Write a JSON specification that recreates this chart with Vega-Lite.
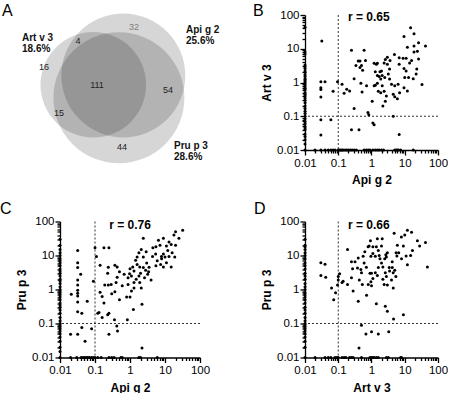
{
  "$schema": "https://vega.github.io/schema/vega-lite/v6.json",
  "padding": {"left": 0, "top": 2, "right": 0, "bottom": 0},
  "columns": 2,
  "spacing": {"row": 71.5, "column": 105},
  "bounds": "flush",
  "config": {
    "view": {"stroke": null},
    "font": "Liberation Sans",
    "axis": {"zindex": 0, "domainColor": "#000", "domainWidth": 1.3, "tickColor": "#000", "tickWidth": 1.3, "labelColor": "#000", "labelFont": "Liberation Sans", "labelFontSize": 11.5, "titleFont": "Liberation Sans", "titleFontSize": 12, "titleFontWeight": "bold", "titleColor": "#000", "grid": false, "labelFlush": false, "labelOverlap": false},
    "title": {"font": "Liberation Sans", "fontSize": 16, "fontWeight": "normal", "color": "#000", "anchor": "start", "frame": "group", "offset": 0}
  },
  "datasets": {
    "venn": [
      {"set": "Art v 3", "share": "18.6%", "pct": 18.6, "cx": 9.33, "cy": 8.27, "lx": 2.2, "ly": 3.07},
      {"set": "Api g 2", "share": "25.6%", "pct": 25.6, "cx": 12.33, "cy": 7.17, "lx": 18.6, "ly": 2.17},
      {"set": "Pru p 3", "share": "28.6%", "pct": 28.6, "cx": 11.89, "cy": 9.82, "lx": 17.4, "ly": 15.93}
    ],
    "counts": [
      {"n": 32, "x": 13.4, "y": 1.4}, {"n": 4, "x": 7.8, "y": 3.1}, {"n": 16, "x": 4.4, "y": 6.2},
      {"n": 111, "x": 9.7, "y": 8.3}, {"n": 54, "x": 16.8, "y": 8.9}, {"n": 15, "x": 5.9, "y": 11.6},
      {"n": 44, "x": 12.2, "y": 15.6}
    ],
    "B": [
      {"apig2":15,"artv3":42},{"apig2":19,"artv3":28},{"apig2":9.5,"artv3":23},{"apig2":0.032,"artv3":17},{"apig2":26,"artv3":15},{"apig2":19,"artv3":12},{"apig2":42,"artv3":12},{"apig2":12,"artv3":11},{"apig2":24,"artv3":8.5},{"apig2":19,"artv3":8},{"apig2":0.25,"artv3":9},{"apig2":0.6,"artv3":9},{"apig2":4.9,"artv3":6.8},{"apig2":0.4,"artv3":4.3},{"apig2":0.45,"artv3":4.3},{"apig2":0.66,"artv3":4.5},{"apig2":1.2,"artv3":3.7},{"apig2":1.5,"artv3":3.7},{"apig2":2.4,"artv3":3.8},{"apig2":2.6,"artv3":4.8},{"apig2":3,"artv3":5.6},{"apig2":6.8,"artv3":5.4},{"apig2":8.9,"artv3":5.2},{"apig2":11,"artv3":5.2},{"apig2":26,"artv3":5},{"apig2":0.34,"artv3":3.2},{"apig2":0.5,"artv3":3.2},{"apig2":0.54,"artv3":2.3},{"apig2":1.3,"artv3":2.1},{"apig2":1.8,"artv3":2.1},{"apig2":3,"artv3":3.5},{"apig2":3.5,"artv3":2.5},{"apig2":6.8,"artv3":3.5},{"apig2":9.5,"artv3":2.6},{"apig2":11,"artv3":2.2},{"apig2":13,"artv3":1.4},{"apig2":18,"artv3":1.3},{"apig2":22,"artv3":1.8},{"apig2":23,"artv3":2.5},{"apig2":33,"artv3":0.87},{"apig2":2,"artv3":2.2},{"apig2":2.1,"artv3":1.6},{"apig2":2.5,"artv3":1.4},{"apig2":1.9,"artv3":1.26},{"apig2":1.5,"artv3":0.95},{"apig2":1.3,"artv3":0.83},{"apig2":1.2,"artv3":0.8},{"apig2":2.1,"artv3":0.8},{"apig2":1.6,"artv3":0.55},{"apig2":1.9,"artv3":0.5},{"apig2":2.4,"artv3":0.55},{"apig2":1.05,"artv3":0.28},{"apig2":2.6,"artv3":0.28},{"apig2":2.2,"artv3":0.2},{"apig2":2.8,"artv3":0.4},{"apig2":3.5,"artv3":1.26},{"apig2":4,"artv3":0.89},{"apig2":5,"artv3":0.8},{"apig2":6.3,"artv3":0.89},{"apig2":4.5,"artv3":0.45},{"apig2":5,"artv3":0.38},{"apig2":6,"artv3":0.33},{"apig2":7,"artv3":0.5},{"apig2":9.5,"artv3":0.7},{"apig2":12,"artv3":0.56},{"apig2":0.04,"artv3":1.05},{"apig2":0.03,"artv3":1.05},{"apig2":0.03,"artv3":0.7},{"apig2":0.03,"artv3":0.62},{"apig2":0.03,"artv3":0.37},{"apig2":0.07,"artv3":0.55},{"apig2":0.095,"artv3":1.05},{"apig2":0.13,"artv3":0.89},{"apig2":0.15,"artv3":0.48},{"apig2":0.18,"artv3":0.63},{"apig2":0.22,"artv3":0.56},{"apig2":0.3,"artv3":0.17},{"apig2":0.48,"artv3":0.95},{"apig2":0.52,"artv3":0.52},{"apig2":0.71,"artv3":0.8},{"apig2":0.78,"artv3":0.13},{"apig2":0.83,"artv3":0.11},{"apig2":1.1,"artv3":0.063},{"apig2":1.2,"artv3":0.056},{"apig2":4.5,"artv3":0.1},{"apig2":0.25,"artv3":0.04},{"apig2":0.42,"artv3":0.04},{"apig2":6.8,"artv3":0.029},{"apig2":0.03,"artv3":0.079},{"apig2":0.06,"artv3":0.079},{"apig2":0.03,"artv3":0.028},{"apig2":1.5,"artv3":1.6},{"apig2":1.7,"artv3":1.5},{"apig2":3.2,"artv3":1.8},{"apig2":1.4,"artv3":3.5},{"apig2":3.6,"artv3":4.5},{"apig2":0.3,"artv3":1.3},{"apig2":0.45,"artv3":2.8},{"apig2":10,"artv3":1.4},{"apig2":16,"artv3":4.5},{"apig2":14,"artv3":3.8},
      {"apig2":0.01,"artv3":43},{"apig2":0.01,"artv3":8},{"apig2":0.01,"artv3":7},{"apig2":0.01,"artv3":3.3},{"apig2":0.01,"artv3":3},{"apig2":0.01,"artv3":2.6},{"apig2":0.01,"artv3":2.2},{"apig2":0.01,"artv3":2},{"apig2":0.01,"artv3":1.7},{"apig2":0.01,"artv3":1.5},{"apig2":0.01,"artv3":1.3},{"apig2":0.01,"artv3":1.2},{"apig2":0.01,"artv3":1.1},{"apig2":0.01,"artv3":1},{"apig2":0.01,"artv3":0.9},{"apig2":0.01,"artv3":0.8},{"apig2":0.01,"artv3":0.7},{"apig2":0.01,"artv3":0.65},{"apig2":0.01,"artv3":0.6},{"apig2":0.01,"artv3":0.5},{"apig2":0.01,"artv3":0.45},{"apig2":0.01,"artv3":0.4},{"apig2":0.01,"artv3":0.35},{"apig2":0.01,"artv3":0.3},{"apig2":0.01,"artv3":0.25},{"apig2":0.01,"artv3":0.2},{"apig2":0.01,"artv3":0.17},{"apig2":0.01,"artv3":0.14},{"apig2":0.01,"artv3":0.12},{"apig2":0.01,"artv3":0.1},{"apig2":0.01,"artv3":0.085},{"apig2":0.01,"artv3":0.07},{"apig2":0.01,"artv3":0.06},{"apig2":0.01,"artv3":0.05},{"apig2":0.01,"artv3":0.045},{"apig2":0.01,"artv3":0.04},{"apig2":0.01,"artv3":0.03},{"apig2":0.01,"artv3":0.025},{"apig2":0.01,"artv3":0.02},{"apig2":0.01,"artv3":0.015},{"apig2":0.01,"artv3":0.01},
      {"apig2":0.02,"artv3":0.01},{"apig2":0.03,"artv3":0.01},{"apig2":0.04,"artv3":0.01},{"apig2":0.05,"artv3":0.01},{"apig2":0.06,"artv3":0.01},{"apig2":0.07,"artv3":0.01},{"apig2":0.08,"artv3":0.01},{"apig2":0.1,"artv3":0.01},{"apig2":0.11,"artv3":0.01},{"apig2":0.12,"artv3":0.01},{"apig2":0.13,"artv3":0.01},{"apig2":0.14,"artv3":0.01},{"apig2":0.16,"artv3":0.01},{"apig2":0.18,"artv3":0.01},{"apig2":0.2,"artv3":0.01},{"apig2":0.23,"artv3":0.01},{"apig2":0.26,"artv3":0.01},{"apig2":0.3,"artv3":0.01},{"apig2":0.35,"artv3":0.01},{"apig2":0.6,"artv3":0.01},{"apig2":0.7,"artv3":0.01},{"apig2":0.8,"artv3":0.01},{"apig2":0.9,"artv3":0.01},{"apig2":1.1,"artv3":0.01},{"apig2":1.3,"artv3":0.01},{"apig2":1.5,"artv3":0.01},{"apig2":1.7,"artv3":0.01},{"apig2":2,"artv3":0.01},{"apig2":2.3,"artv3":0.01},{"apig2":5,"artv3":0.01},{"apig2":5.5,"artv3":0.01},{"apig2":6,"artv3":0.01},{"apig2":6.5,"artv3":0.01},{"apig2":7.5,"artv3":0.01},{"apig2":18,"artv3":0.01}
    ],
    "C": [
      {"apig2":32,"prup3":55},{"apig2":20,"prup3":50},{"apig2":18,"prup3":40},{"apig2":25,"prup3":32},{"apig2":2.4,"prup3":32},{"apig2":9,"prup3":32},{"apig2":6.5,"prup3":28},{"apig2":13,"prup3":25},{"apig2":15,"prup3":21},{"apig2":11,"prup3":19},{"apig2":5.5,"prup3":18},{"apig2":4.5,"prup3":17},{"apig2":7.2,"prup3":20},{"apig2":2.1,"prup3":15},{"apig2":1.8,"prup3":12},{"apig2":2.9,"prup3":13},{"apig2":4.4,"prup3":9.4},{"apig2":5.4,"prup3":11},{"apig2":7.9,"prup3":9.4},{"apig2":10,"prup3":9},{"apig2":13,"prup3":9.4},{"apig2":16,"prup3":12},{"apig2":19,"prup3":9},{"apig2":11,"prup3":6.1},{"apig2":9,"prup3":4.6},{"apig2":15,"prup3":4.6},{"apig2":7.5,"prup3":5.4},{"apig2":5.5,"prup3":5},{"apig2":2.4,"prup3":9},{"apig2":1.6,"prup3":9},{"apig2":1.45,"prup3":7.2},{"apig2":1.2,"prup3":4.6},{"apig2":1,"prup3":4.1},{"apig2":1.3,"prup3":3.5},{"apig2":0.97,"prup3":2.9},{"apig2":1.1,"prup3":2.5},{"apig2":0.88,"prup3":2.2},{"apig2":1.6,"prup3":5.4},{"apig2":1.9,"prup3":4.6},{"apig2":2.4,"prup3":4.4},{"apig2":2.8,"prup3":3.7},{"apig2":3.4,"prup3":3.3},{"apig2":4,"prup3":1.9},{"apig2":1.8,"prup3":2.5},{"apig2":1.9,"prup3":1.6},{"apig2":2.1,"prup3":1.1},{"apig2":0.88,"prup3":1.4},{"apig2":1.3,"prup3":1.1},{"apig2":1.1,"prup3":0.9},{"apig2":0.8,"prup3":0.6},{"apig2":1,"prup3":0.6},{"apig2":2.2,"prup3":0.37},{"apig2":1.25,"prup3":0.26},{"apig2":0.84,"prup3":0.13},{"apig2":0.68,"prup3":2.8},{"apig2":0.5,"prup3":3.3},{"apig2":0.43,"prup3":2.3},{"apig2":0.4,"prup3":1.6},{"apig2":0.43,"prup3":4.6},{"apig2":0.37,"prup3":5.2},{"apig2":0.25,"prup3":17},{"apig2":0.18,"prup3":17},{"apig2":0.14,"prup3":5.2},{"apig2":0.24,"prup3":4.5},{"apig2":0.23,"prup3":3},{"apig2":0.19,"prup3":1.35},{"apig2":0.24,"prup3":1.35},{"apig2":0.29,"prup3":1.4},{"apig2":0.37,"prup3":0.86},{"apig2":0.14,"prup3":0.83},{"apig2":0.16,"prup3":0.62},{"apig2":0.18,"prup3":0.4},{"apig2":0.25,"prup3":0.2},{"apig2":0.23,"prup3":0.18},{"apig2":0.16,"prup3":0.15},{"apig2":0.12,"prup3":0.2},{"apig2":0.13,"prup3":0.21},{"apig2":0.11,"prup3":9.4},{"apig2":0.1,"prup3":17},{"apig2":0.09,"prup3":1.75},{"apig2":0.36,"prup3":0.13},{"apig2":0.44,"prup3":0.06},{"apig2":0.42,"prup3":0.085},{"apig2":0.25,"prup3":0.048},{"apig2":0.08,"prup3":0.07},{"apig2":0.032,"prup3":14},{"apig2":0.032,"prup3":6.1},{"apig2":0.032,"prup3":4.4},{"apig2":0.039,"prup3":2.8},{"apig2":0.032,"prup3":1.9},{"apig2":0.032,"prup3":1.35},{"apig2":0.032,"prup3":0.95},{"apig2":0.032,"prup3":0.77},{"apig2":0.032,"prup3":0.64},{"apig2":0.032,"prup3":0.43},{"apig2":0.021,"prup3":0.73},{"apig2":0.06,"prup3":0.45},{"apig2":0.032,"prup3":0.22},{"apig2":0.042,"prup3":0.2},{"apig2":0.02,"prup3":0.048},{"apig2":0.032,"prup3":0.048},{"apig2":0.042,"prup3":0.076},{"apig2":0.052,"prup3":0.03},{"apig2":2.2,"prup3":0.019},{"apig2":3,"prup3":6},{"apig2":3.5,"prup3":4.5},{"apig2":6,"prup3":7},{"apig2":8,"prup3":8},{"apig2":12,"prup3":14},{"apig2":20,"prup3":20},{"apig2":3.2,"prup3":2.8},{"apig2":2.6,"prup3":2.2},{"apig2":1.5,"prup3":2},{"apig2":0.6,"prup3":1.3},{"apig2":0.3,"prup3":0.75},{"apig2":0.5,"prup3":0.5},{"apig2":2,"prup3":3},{"apig2":9,"prup3":11},{"apig2":1.3,"prup3":1.6},
      {"apig2":0.01,"prup3":30},{"apig2":0.01,"prup3":20},{"apig2":0.01,"prup3":15},{"apig2":0.01,"prup3":12},{"apig2":0.01,"prup3":10},{"apig2":0.01,"prup3":8},{"apig2":0.01,"prup3":7},{"apig2":0.01,"prup3":6},{"apig2":0.01,"prup3":5},{"apig2":0.01,"prup3":4},{"apig2":0.01,"prup3":3.5},{"apig2":0.01,"prup3":3},{"apig2":0.01,"prup3":2.5},{"apig2":0.01,"prup3":2},{"apig2":0.01,"prup3":1.8},{"apig2":0.01,"prup3":1.5},{"apig2":0.01,"prup3":1.2},{"apig2":0.01,"prup3":1},{"apig2":0.01,"prup3":0.9},{"apig2":0.01,"prup3":0.8},{"apig2":0.01,"prup3":0.7},{"apig2":0.01,"prup3":0.6},{"apig2":0.01,"prup3":0.5},{"apig2":0.01,"prup3":0.4},{"apig2":0.01,"prup3":0.35},{"apig2":0.01,"prup3":0.3},{"apig2":0.01,"prup3":0.25},{"apig2":0.01,"prup3":0.2},{"apig2":0.01,"prup3":0.15},{"apig2":0.01,"prup3":0.12},{"apig2":0.01,"prup3":0.1},{"apig2":0.01,"prup3":0.09},{"apig2":0.01,"prup3":0.08},{"apig2":0.01,"prup3":0.07},{"apig2":0.01,"prup3":0.06},{"apig2":0.01,"prup3":0.05},{"apig2":0.01,"prup3":0.04},{"apig2":0.01,"prup3":0.03},{"apig2":0.01,"prup3":0.02},{"apig2":0.01,"prup3":0.015},{"apig2":0.01,"prup3":0.01},
      {"apig2":0.02,"prup3":0.01},{"apig2":0.03,"prup3":0.01},{"apig2":0.04,"prup3":0.01},{"apig2":0.045,"prup3":0.01},{"apig2":0.05,"prup3":0.01},{"apig2":0.055,"prup3":0.01},{"apig2":0.06,"prup3":0.01},{"apig2":0.065,"prup3":0.01},{"apig2":0.07,"prup3":0.01},{"apig2":0.08,"prup3":0.01},{"apig2":0.09,"prup3":0.01},{"apig2":0.1,"prup3":0.01},{"apig2":0.12,"prup3":0.01},{"apig2":0.15,"prup3":0.01},{"apig2":0.25,"prup3":0.01},{"apig2":0.3,"prup3":0.01},{"apig2":0.35,"prup3":0.01},{"apig2":0.55,"prup3":0.01},{"apig2":0.6,"prup3":0.01},{"apig2":1.8,"prup3":0.01},{"apig2":2,"prup3":0.01},{"apig2":6,"prup3":0.01}
    ],
    "D": [
      {"artv3":12,"prup3":55},{"artv3":16,"prup3":48},{"artv3":4.8,"prup3":45},{"artv3":10,"prup3":40},{"artv3":7.9,"prup3":35},{"artv3":24,"prup3":27},{"artv3":42,"prup3":24},{"artv3":28,"prup3":19},{"artv3":17,"prup3":14},{"artv3":11,"prup3":9.6},{"artv3":12,"prup3":5.3},{"artv3":48,"prup3":4.6},{"artv3":9.1,"prup3":19},{"artv3":6.6,"prup3":12},{"artv3":5.5,"prup3":12},{"artv3":5.8,"prup3":9.6},{"artv3":4.2,"prup3":6.5},{"artv3":2.7,"prup3":10.5},{"artv3":2.8,"prup3":9},{"artv3":3,"prup3":12},{"artv3":2.5,"prup3":8},{"artv3":2,"prup3":19},{"artv3":1.5,"prup3":31},{"artv3":2.1,"prup3":31},{"artv3":0.93,"prup3":27},{"artv3":0.79,"prup3":18},{"artv3":0.85,"prup3":19},{"artv3":1.1,"prup3":18},{"artv3":1.4,"prup3":18},{"artv3":1.6,"prup3":14},{"artv3":1.1,"prup3":11.5},{"artv3":0.63,"prup3":13},{"artv3":0.56,"prup3":9.5},{"artv3":0.96,"prup3":9.5},{"artv3":1.3,"prup3":9.5},{"artv3":1.7,"prup3":10},{"artv3":0.4,"prup3":8.5},{"artv3":0.38,"prup3":4.3},{"artv3":0.48,"prup3":3.9},{"artv3":0.5,"prup3":3.1},{"artv3":0.27,"prup3":4.1},{"artv3":0.32,"prup3":6.5},{"artv3":0.25,"prup3":6.5},{"artv3":0.19,"prup3":15},{"artv3":0.9,"prup3":3},{"artv3":1,"prup3":3},{"artv3":1.3,"prup3":3.1},{"artv3":1.5,"prup3":2.6},{"artv3":1.1,"prup3":2.1},{"artv3":0.96,"prup3":1.7},{"artv3":0.8,"prup3":1.4},{"artv3":1,"prup3":1.3},{"artv3":2.2,"prup3":4.6},{"artv3":2.6,"prup3":3.1},{"artv3":2.8,"prup3":2.4},{"artv3":2.4,"prup3":1.4},{"artv3":3,"prup3":1.35},{"artv3":4.2,"prup3":4.4},{"artv3":5,"prup3":3.7},{"artv3":4.5,"prup3":3.1},{"artv3":5.4,"prup3":2.4},{"artv3":4,"prup3":1.9},{"artv3":4.5,"prup3":1.1},{"artv3":3.4,"prup3":4.4},{"artv3":1.6,"prup3":4.4},{"artv3":0.19,"prup3":1.4},{"artv3":0.28,"prup3":0.9},{"artv3":0.14,"prup3":1.75},{"artv3":0.43,"prup3":1.9},{"artv3":0.53,"prup3":1.4},{"artv3":0.71,"prup3":0.68},{"artv3":0.4,"prup3":0.45},{"artv3":1.4,"prup3":0.38},{"artv3":2.6,"prup3":0.32},{"artv3":3,"prup3":0.23},{"artv3":4.6,"prup3":0.135},{"artv3":9.1,"prup3":0.18},{"artv3":0.5,"prup3":0.089},{"artv3":0.68,"prup3":0.049},{"artv3":1,"prup3":0.057},{"artv3":1.6,"prup3":0.049},{"artv3":3.3,"prup3":0.057},{"artv3":0.42,"prup3":0.019},{"artv3":0.03,"prup3":6.1},{"artv3":0.04,"prup3":5.5},{"artv3":0.03,"prup3":2.6},{"artv3":0.042,"prup3":2.3},{"artv3":0.063,"prup3":1.1},{"artv3":0.083,"prup3":0.8},{"artv3":0.073,"prup3":0.5},{"artv3":0.1,"prup3":1.9},{"artv3":0.095,"prup3":1.35},{"artv3":0.11,"prup3":2.9},{"artv3":0.1,"prup3":2.4},{"artv3":0.13,"prup3":1.6},{"artv3":0.6,"prup3":6},{"artv3":0.7,"prup3":4.5},{"artv3":3.5,"prup3":3.5},{"artv3":2,"prup3":6},{"artv3":8,"prup3":8},{"artv3":15,"prup3":10},{"artv3":6,"prup3":20},{"artv3":0.25,"prup3":2.2},{"artv3":1.8,"prup3":8},{"artv3":2.2,"prup3":2},
      {"artv3":0.01,"prup3":30},{"artv3":0.01,"prup3":20},{"artv3":0.01,"prup3":18},{"artv3":0.01,"prup3":15},{"artv3":0.01,"prup3":12},{"artv3":0.01,"prup3":10},{"artv3":0.01,"prup3":8},{"artv3":0.01,"prup3":6},{"artv3":0.01,"prup3":5},{"artv3":0.01,"prup3":4},{"artv3":0.01,"prup3":3},{"artv3":0.01,"prup3":2.5},{"artv3":0.01,"prup3":2},{"artv3":0.01,"prup3":1.5},{"artv3":0.01,"prup3":1.2},{"artv3":0.01,"prup3":1},{"artv3":0.01,"prup3":0.8},{"artv3":0.01,"prup3":0.7},{"artv3":0.01,"prup3":0.6},{"artv3":0.01,"prup3":0.5},{"artv3":0.01,"prup3":0.4},{"artv3":0.01,"prup3":0.3},{"artv3":0.01,"prup3":0.25},{"artv3":0.01,"prup3":0.2},{"artv3":0.01,"prup3":0.15},{"artv3":0.01,"prup3":0.12},{"artv3":0.01,"prup3":0.1},{"artv3":0.01,"prup3":0.09},{"artv3":0.01,"prup3":0.08},{"artv3":0.01,"prup3":0.07},{"artv3":0.01,"prup3":0.06},{"artv3":0.01,"prup3":0.05},{"artv3":0.01,"prup3":0.04},{"artv3":0.01,"prup3":0.03},{"artv3":0.01,"prup3":0.02},{"artv3":0.01,"prup3":0.01},
      {"artv3":0.02,"prup3":0.01},{"artv3":0.04,"prup3":0.01},{"artv3":0.05,"prup3":0.01},{"artv3":0.06,"prup3":0.01},{"artv3":0.08,"prup3":0.01},{"artv3":0.09,"prup3":0.01},{"artv3":0.1,"prup3":0.01},{"artv3":0.13,"prup3":0.01},{"artv3":0.15,"prup3":0.01},{"artv3":0.17,"prup3":0.01},{"artv3":0.22,"prup3":0.01},{"artv3":0.25,"prup3":0.01},{"artv3":0.28,"prup3":0.01},{"artv3":0.5,"prup3":0.01},{"artv3":0.9,"prup3":0.01},{"artv3":1,"prup3":0.01},{"artv3":1.1,"prup3":0.01},{"artv3":1.2,"prup3":0.01},{"artv3":1.4,"prup3":0.01},{"artv3":1.6,"prup3":0.01},{"artv3":2.8,"prup3":0.01},{"artv3":3.2,"prup3":0.01},{"artv3":7.5,"prup3":0.01},{"artv3":8,"prup3":0.01}
    ]
  },
  "concat": [
    {
      "width": 140, "height": 135,
      "title": {"text": "A", "dx": -58, "dy": 9},
      "layer": [
        {"data": {"name": "venn"}, "mark": {"type": "point", "shape": "circle", "filled": true, "color": "#000", "opacity": 0.16, "strokeWidth": 0},
         "encoding": {
           "x": {"field": "cx", "type": "quantitative", "scale": {"domain": [6, 20]}, "axis": null},
           "y": {"field": "cy", "type": "quantitative", "scale": {"domain": [1.55, 15.05], "reverse": true}, "axis": null},
           "size": {"field": "pct", "type": "quantitative", "scale": {"domain": [0, 30], "range": [0, 18000]}, "legend": null}}},
        {"data": {"name": "counts"}, "mark": {"type": "text", "fontSize": 9, "align": "center", "baseline": "middle"},
         "encoding": {
           "x": {"field": "x", "type": "quantitative", "axis": null},
           "y": {"field": "y", "type": "quantitative", "axis": null},
           "text": {"field": "n"},
           "color": {"condition": {"test": "datum.n == 32", "value": "#808080"}, "value": "#222"}}},
        {"data": {"name": "venn"}, "mark": {"type": "text", "fontSize": 10, "fontWeight": "bold", "align": "left", "baseline": "alphabetic", "color": "#111"},
         "encoding": {
           "x": {"field": "lx", "type": "quantitative", "axis": null},
           "y": {"field": "ly", "type": "quantitative", "axis": null},
           "text": {"field": "set"}}},
        {"data": {"name": "venn"}, "mark": {"type": "text", "fontSize": 10, "fontWeight": "bold", "align": "left", "baseline": "alphabetic", "color": "#111", "dy": 11},
         "encoding": {
           "x": {"field": "lx", "type": "quantitative", "axis": null},
           "y": {"field": "ly", "type": "quantitative", "axis": null},
           "text": {"field": "share"}}}
      ]
    },
    {
      "width": 133, "height": 135,
      "title": {"text": "B", "dx": -52, "dy": 13.5},
      "resolve": {"axis": {"x": "independent", "y": "independent"}},
      "layer": [
        {"data": {"values": [{"v": 0.1}]}, "mark": {"type": "rule", "strokeDash": [2, 2], "color": "#333", "strokeWidth": 1},
         "encoding": {"x": {"field": "v", "type": "quantitative", "scale": {"type": "log", "domain": [0.01, 100], "nice": false}, "axis": {"orient": "bottom", "values": [0.02,0.03,0.04,0.05,0.06,0.07,0.08,0.09,0.2,0.3,0.4,0.5,0.6,0.7,0.8,0.9,2,3,4,5,6,7,8,9,20,30,40,50,60,70,80,90], "labels": false, "domain": false, "tickSize": 3, "title": null}}}},
        {"data": {"values": [{"v": 0.1}]}, "mark": {"type": "rule", "strokeDash": [2, 2], "color": "#333", "strokeWidth": 1},
         "encoding": {"y": {"field": "v", "type": "quantitative", "scale": {"type": "log", "domain": [0.01, 100], "nice": false}, "axis": {"orient": "left", "values": [0.02,0.03,0.04,0.05,0.06,0.07,0.08,0.09,0.2,0.3,0.4,0.5,0.6,0.7,0.8,0.9,2,3,4,5,6,7,8,9,20,30,40,50,60,70,80,90], "labels": false, "domain": false, "tickSize": 3, "title": null}}}},
        {"data": {"name": "B"}, "mark": {"type": "circle", "size": 9, "color": "#000", "opacity": 1, "clip": false},
         "encoding": {
           "x": {"field": "apig2", "type": "quantitative", "scale": {"type": "log", "domain": [0.01, 100], "nice": false}, "axis": {"orient": "bottom", "values": [0.01, 0.1, 1, 10, 100], "format": "~g", "tickSize": 5, "labelPadding": 2, "titlePadding": 6, "title": "Api g 2"}},
           "y": {"field": "artv3", "type": "quantitative", "scale": {"type": "log", "domain": [0.01, 100], "nice": false}, "axis": {"orient": "left", "values": [0.01, 0.1, 1, 10, 100], "format": "~g", "tickSize": 5, "labelPadding": 1, "titlePadding": 3, "title": "Art v 3"}}}},
        {"data": {"values": [{"r": "r = 0.65", "x": 0.83, "y": 88}]}, "mark": {"type": "text", "fontSize": 12, "fontWeight": "bold", "color": "#000"},
         "encoding": {"x": {"field": "x", "type": "quantitative", "axis": null}, "y": {"field": "y", "type": "quantitative", "axis": null}, "text": {"field": "r"}}}
      ]
    },
    {
      "width": 140, "height": 136,
      "title": {"text": "C", "dx": -60, "dy": 5.5},
      "resolve": {"axis": {"x": "independent", "y": "independent"}},
      "layer": [
        {"data": {"values": [{"v": 0.1}]}, "mark": {"type": "rule", "strokeDash": [2, 2], "color": "#333", "strokeWidth": 1},
         "encoding": {"x": {"field": "v", "type": "quantitative", "scale": {"type": "log", "domain": [0.01, 100], "nice": false}, "axis": {"orient": "bottom", "values": [0.02,0.03,0.04,0.05,0.06,0.07,0.08,0.09,0.2,0.3,0.4,0.5,0.6,0.7,0.8,0.9,2,3,4,5,6,7,8,9,20,30,40,50,60,70,80,90], "labels": false, "domain": false, "tickSize": 3, "title": null}}}},
        {"data": {"values": [{"v": 0.1}]}, "mark": {"type": "rule", "strokeDash": [2, 2], "color": "#333", "strokeWidth": 1},
         "encoding": {"y": {"field": "v", "type": "quantitative", "scale": {"type": "log", "domain": [0.01, 100], "nice": false}, "axis": {"orient": "left", "values": [0.02,0.03,0.04,0.05,0.06,0.07,0.08,0.09,0.2,0.3,0.4,0.5,0.6,0.7,0.8,0.9,2,3,4,5,6,7,8,9,20,30,40,50,60,70,80,90], "labels": false, "domain": false, "tickSize": 3, "title": null}}}},
        {"data": {"name": "C"}, "mark": {"type": "circle", "size": 9, "color": "#000", "opacity": 1, "clip": false},
         "encoding": {
           "x": {"field": "apig2", "type": "quantitative", "scale": {"type": "log", "domain": [0.01, 100], "nice": false}, "axis": {"orient": "bottom", "values": [0.01, 0.1, 1, 10, 100], "format": "~g", "tickSize": 5, "labelPadding": 2, "titlePadding": 6, "title": "Api g 2"}},
           "y": {"field": "prup3", "type": "quantitative", "scale": {"type": "log", "domain": [0.01, 100], "nice": false}, "axis": {"orient": "left", "values": [0.01, 0.1, 1, 10, 100], "format": "~g", "tickSize": 5, "labelPadding": 1, "titlePadding": 3, "title": "Pru p 3"}}}},
        {"data": {"values": [{"r": "r = 0.76", "x": 1.0, "y": 81}]}, "mark": {"type": "text", "fontSize": 12, "fontWeight": "bold", "color": "#000"},
         "encoding": {"x": {"field": "x", "type": "quantitative", "axis": null}, "y": {"field": "y", "type": "quantitative", "axis": null}, "text": {"field": "r"}}}
      ]
    },
    {
      "width": 133, "height": 136,
      "title": {"text": "D", "dx": -51, "dy": 5.5},
      "resolve": {"axis": {"x": "independent", "y": "independent"}},
      "layer": [
        {"data": {"values": [{"v": 0.1}]}, "mark": {"type": "rule", "strokeDash": [2, 2], "color": "#333", "strokeWidth": 1},
         "encoding": {"x": {"field": "v", "type": "quantitative", "scale": {"type": "log", "domain": [0.01, 100], "nice": false}, "axis": {"orient": "bottom", "values": [0.02,0.03,0.04,0.05,0.06,0.07,0.08,0.09,0.2,0.3,0.4,0.5,0.6,0.7,0.8,0.9,2,3,4,5,6,7,8,9,20,30,40,50,60,70,80,90], "labels": false, "domain": false, "tickSize": 3, "title": null}}}},
        {"data": {"values": [{"v": 0.1}]}, "mark": {"type": "rule", "strokeDash": [2, 2], "color": "#333", "strokeWidth": 1},
         "encoding": {"y": {"field": "v", "type": "quantitative", "scale": {"type": "log", "domain": [0.01, 100], "nice": false}, "axis": {"orient": "left", "values": [0.02,0.03,0.04,0.05,0.06,0.07,0.08,0.09,0.2,0.3,0.4,0.5,0.6,0.7,0.8,0.9,2,3,4,5,6,7,8,9,20,30,40,50,60,70,80,90], "labels": false, "domain": false, "tickSize": 3, "title": null}}}},
        {"data": {"name": "D"}, "mark": {"type": "circle", "size": 9, "color": "#000", "opacity": 1, "clip": false},
         "encoding": {
           "x": {"field": "artv3", "type": "quantitative", "scale": {"type": "log", "domain": [0.01, 100], "nice": false}, "axis": {"orient": "bottom", "values": [0.01, 0.1, 1, 10, 100], "format": "~g", "tickSize": 5, "labelPadding": 2, "titlePadding": 6, "title": "Art v 3"}},
           "y": {"field": "prup3", "type": "quantitative", "scale": {"type": "log", "domain": [0.01, 100], "nice": false}, "axis": {"orient": "left", "values": [0.01, 0.1, 1, 10, 100], "format": "~g", "tickSize": 5, "labelPadding": 1, "titlePadding": 3, "title": "Pru p 3"}}}},
        {"data": {"values": [{"r": "r = 0.66", "x": 0.83, "y": 81}]}, "mark": {"type": "text", "fontSize": 12, "fontWeight": "bold", "color": "#000"},
         "encoding": {"x": {"field": "x", "type": "quantitative", "axis": null}, "y": {"field": "y", "type": "quantitative", "axis": null}, "text": {"field": "r"}}}
      ]
    }
  ]
}
